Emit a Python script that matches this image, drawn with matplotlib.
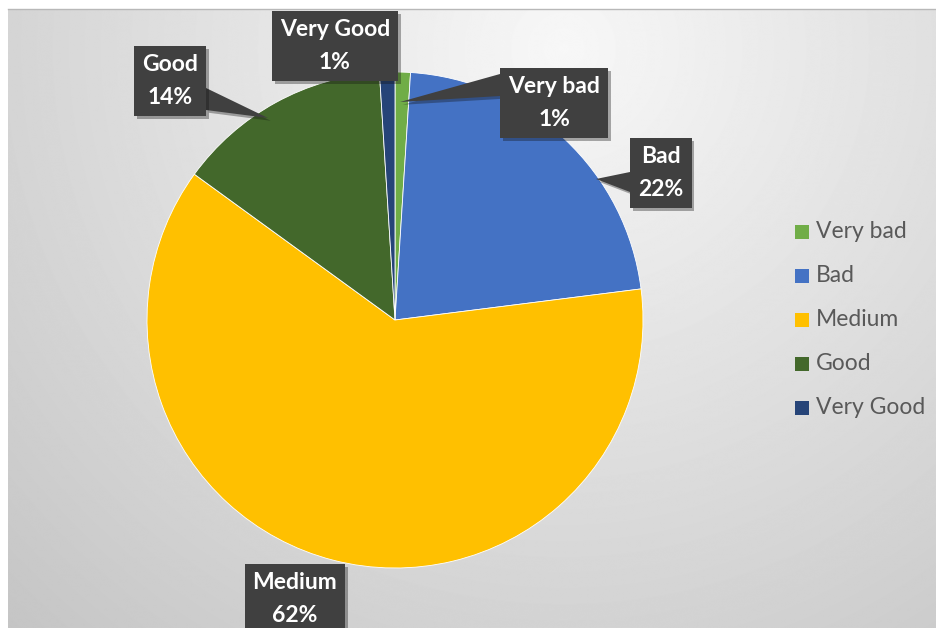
import numpy as np
import matplotlib.pyplot as plt
from matplotlib.patches import Polygon, Rectangle
import matplotlib.patheffects as pe

W, H = 936, 628  # figure size in pixels

categories = ['Very bad', 'Bad', 'Medium', 'Good', 'Very Good']
shares = [1, 22, 62, 14, 1]  # percent
colors = ['#70AD47', '#4472C4', '#FFC000', '#43682B', '#264478']

# label layout, pixels measured from the top left corner
label_centre = [(554, 103), (661, 173), (295, 599), (170, 81), (335, 46)]
# callout pointers: (tip, base x, base y top, base y bottom)
pointers = {
    0: ((400, 102), 500, 74, 96),
    1: ((596, 179), 630, 172, 192),
    3: ((268, 118), 206, 88, 110),
}

fig = plt.figure(figsize=(W / 100, H / 100), dpi=100)
ax = fig.add_axes([0, 0, 1, 1])

# grey radial gradient behind the chart
yy, xx = np.mgrid[0:H, 0:W]
d = np.hypot(xx - 560, yy - 40)
bg = np.clip(0.97 - 0.000245 * d, 0, 1)
ax.imshow(bg, cmap='gray', vmin=0, vmax=1, extent=(8, W, 0, H - 9),
          origin='upper', zorder=0, interpolation='bilinear')
ax.plot([8, W], [H - 9, H - 9], color='#b8b8b8', lw=1, zorder=1)

wedges, _ = ax.pie(shares, colors=colors, startangle=90, counterclock=False,
                   center=(395, H - 320), radius=248,
                   wedgeprops=dict(edgecolor='white', linewidth=0.6))
for w in wedges:
    w.set_zorder(2)

shadow = [pe.SimplePatchShadow(offset=(2, -2), alpha=0.35), pe.Normal()]

for i, (tip, bx, by0, by1) in pointers.items():
    tri = Polygon([(tip[0], H - tip[1]), (bx, H - by0), (bx, H - by1)],
                  closed=True, fc='#404040', ec='none', zorder=3)
    tri.set_path_effects(shadow)
    ax.add_patch(tri)

for cat, val, (cx, cy) in zip(categories, shares, label_centre):
    t = ax.text(cx, H - cy, f'{cat}\n{val}%', ha='center', va='center',
                color='white', fontweight='bold', fontsize=16.5, family='Lato',
                linespacing=1.7, zorder=4,
                bbox=dict(boxstyle='square,pad=0.35', fc='#404040', ec='none'))
    t.get_bbox_patch().set_path_effects(shadow)

# legend
for i, (cat, c) in enumerate(zip(categories, colors)):
    y = 232 + i * 44
    ax.add_patch(Rectangle((795, H - y - 7), 14, 14, fc=c, ec='none', zorder=3))
    ax.text(816, H - y, cat, ha='left', va='center', color='#595959',
            fontsize=16.5, family='Lato', zorder=3)

ax.set_xlim(0, W)
ax.set_ylim(0, H)
ax.set_aspect('auto')
ax.axis('off')

fig.savefig('out.png', dpi=100)
